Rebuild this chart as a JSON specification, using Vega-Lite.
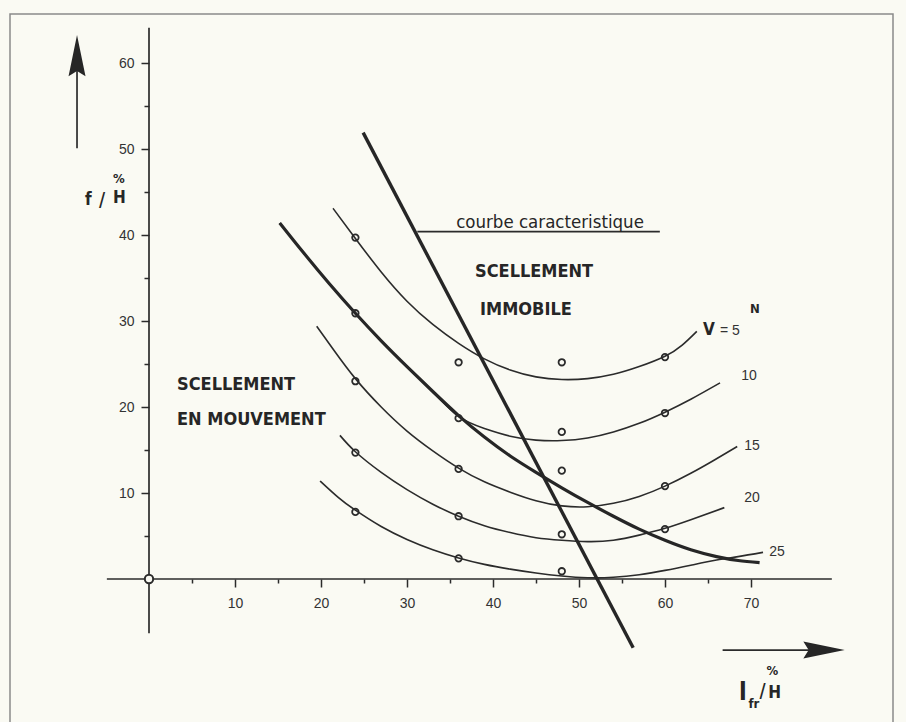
{
  "$schema": "https://vega.github.io/schema/vega-lite/v6.json",
  "width": 883,
  "height": 710,
  "autosize": {"type": "none"},
  "padding": {"left": 10, "top": 14, "right": 13, "bottom": 0},
  "background": "#fafaf3",
  "config": {"view": {"stroke": "#8a8a8a", "strokeWidth": 1.5}, "font": "Liberation Sans"},
  "datasets": {
    "curves": [
      {"v": "5", "x": 21.4, "y": 43.1}, {"v": "5", "x": 24, "y": 39.6}, {"v": "5", "x": 27, "y": 35.7}, {"v": "5", "x": 30, "y": 32.3}, {"v": "5", "x": 33, "y": 29.6}, {"v": "5", "x": 36, "y": 27.4}, {"v": "5", "x": 39, "y": 25.6}, {"v": "5", "x": 42, "y": 24.3}, {"v": "5", "x": 45, "y": 23.5}, {"v": "5", "x": 48, "y": 23.2}, {"v": "5", "x": 51, "y": 23.3}, {"v": "5", "x": 54, "y": 23.8}, {"v": "5", "x": 57, "y": 24.7}, {"v": "5", "x": 60, "y": 25.9}, {"v": "5", "x": 62, "y": 27.2}, {"v": "5", "x": 63.7, "y": 28.8},
      {"v": "10", "x": 15.2, "y": 41.4}, {"v": "10", "x": 18, "y": 37.9}, {"v": "10", "x": 21, "y": 34.3}, {"v": "10", "x": 24, "y": 30.9}, {"v": "10", "x": 27, "y": 27.7}, {"v": "10", "x": 30, "y": 24.7}, {"v": "10", "x": 33, "y": 21.8}, {"v": "10", "x": 36, "y": 18.9}, {"v": "10", "x": 39, "y": 17.5}, {"v": "10", "x": 42, "y": 16.6}, {"v": "10", "x": 45, "y": 16.15}, {"v": "10", "x": 48, "y": 16.1}, {"v": "10", "x": 51, "y": 16.4}, {"v": "10", "x": 54, "y": 17.1}, {"v": "10", "x": 57, "y": 18.1}, {"v": "10", "x": 60, "y": 19.4}, {"v": "10", "x": 63, "y": 20.9}, {"v": "10", "x": 66.4, "y": 22.8},
      {"v": "15", "x": 19.5, "y": 29.4}, {"v": "15", "x": 21.5, "y": 26.6}, {"v": "15", "x": 24, "y": 23.3}, {"v": "15", "x": 27, "y": 20.0}, {"v": "15", "x": 30, "y": 17.2}, {"v": "15", "x": 33, "y": 14.9}, {"v": "15", "x": 36, "y": 12.9}, {"v": "15", "x": 39, "y": 11.3}, {"v": "15", "x": 42, "y": 10.1}, {"v": "15", "x": 45, "y": 9.1}, {"v": "15", "x": 48, "y": 8.5}, {"v": "15", "x": 51, "y": 8.4}, {"v": "15", "x": 54, "y": 8.8}, {"v": "15", "x": 57, "y": 9.6}, {"v": "15", "x": 60, "y": 10.8}, {"v": "15", "x": 63, "y": 12.3}, {"v": "15", "x": 65.5, "y": 13.7}, {"v": "15", "x": 68.4, "y": 15.4},
      {"v": "20", "x": 22.2, "y": 16.7}, {"v": "20", "x": 24, "y": 14.8}, {"v": "20", "x": 27, "y": 12.4}, {"v": "20", "x": 30, "y": 10.4}, {"v": "20", "x": 33, "y": 8.7}, {"v": "20", "x": 36, "y": 7.3}, {"v": "20", "x": 39, "y": 6.2}, {"v": "20", "x": 42, "y": 5.4}, {"v": "20", "x": 45, "y": 4.8}, {"v": "20", "x": 48, "y": 4.5}, {"v": "20", "x": 51, "y": 4.35}, {"v": "20", "x": 54, "y": 4.5}, {"v": "20", "x": 57, "y": 5.1}, {"v": "20", "x": 60, "y": 5.9}, {"v": "20", "x": 63, "y": 6.9}, {"v": "20", "x": 66.9, "y": 8.3},
      {"v": "25", "x": 19.9, "y": 11.4}, {"v": "25", "x": 22, "y": 9.5}, {"v": "25", "x": 24, "y": 8.0}, {"v": "25", "x": 27, "y": 6.1}, {"v": "25", "x": 30, "y": 4.6}, {"v": "25", "x": 33, "y": 3.4}, {"v": "25", "x": 36, "y": 2.45}, {"v": "25", "x": 39, "y": 1.7}, {"v": "25", "x": 42, "y": 1.15}, {"v": "25", "x": 45, "y": 0.7}, {"v": "25", "x": 48, "y": 0.35}, {"v": "25", "x": 51, "y": 0.15}, {"v": "25", "x": 54, "y": 0.2}, {"v": "25", "x": 57, "y": 0.5}, {"v": "25", "x": 60, "y": 1.0}, {"v": "25", "x": 63, "y": 1.6}, {"v": "25", "x": 66, "y": 2.2}, {"v": "25", "x": 68.5, "y": 2.6}, {"v": "25", "x": 71.4, "y": 3.1}
    ],
    "limit": [
      {"x": 15.2, "y": 41.4}, {"x": 18, "y": 37.9}, {"x": 21, "y": 34.3}, {"x": 24, "y": 30.9}, {"x": 27, "y": 27.7}, {"x": 30, "y": 24.7}, {"x": 33, "y": 21.8}, {"x": 36, "y": 19.0}, {"x": 39, "y": 16.5}, {"x": 42, "y": 14.3}, {"x": 45, "y": 12.4}, {"x": 48, "y": 10.6}, {"x": 51, "y": 8.9}, {"x": 54, "y": 7.3}, {"x": 57, "y": 5.8}, {"x": 60, "y": 4.5}, {"x": 63, "y": 3.4}, {"x": 66, "y": 2.6}, {"x": 68.5, "y": 2.15}, {"x": 71.0, "y": 1.9}
    ],
    "points": [
      {"v": "5", "x": 24, "y": 39.7}, {"v": "5", "x": 36, "y": 25.2}, {"v": "5", "x": 48, "y": 25.2}, {"v": "5", "x": 60, "y": 25.8},
      {"v": "10", "x": 24, "y": 30.9}, {"v": "10", "x": 36, "y": 18.7}, {"v": "10", "x": 48, "y": 17.1}, {"v": "10", "x": 60, "y": 19.3},
      {"v": "15", "x": 24, "y": 23.0}, {"v": "15", "x": 36, "y": 12.8}, {"v": "15", "x": 48, "y": 12.6}, {"v": "15", "x": 60, "y": 10.8},
      {"v": "20", "x": 24, "y": 14.7}, {"v": "20", "x": 36, "y": 7.3}, {"v": "20", "x": 48, "y": 5.2}, {"v": "20", "x": 60, "y": 5.8},
      {"v": "25", "x": 24, "y": 7.8}, {"v": "25", "x": 36, "y": 2.4}, {"v": "25", "x": 48, "y": 0.9}
    ],
    "thinRules": [
      {"x": -4.9, "y": 0, "x2": 79.4, "y2": 0},
      {"x": 0, "y": -6.3, "x2": 0, "y2": 64.1},
      {"x": 31.2, "y": 40.4, "x2": 59.4, "y2": 40.4},
      {"x": -8.37, "y": 50.1, "x2": -8.37, "y2": 60.0},
      {"x": 66.7, "y": -8.26, "x2": 77.5, "y2": -8.26}
    ],
    "charac": [{"x": 24.9, "y": 51.9, "x2": 56.3, "y2": -8.0}],
    "heads": [{"dir": "up", "x": -8.37, "y": 60.8}, {"dir": "right", "x": 78.43, "y": -8.26}],
    "origin": [{"x": 0, "y": 0}],
    "bigText": [
      {"x": 37.91, "y": 35.12, "t": "SCELLEMENT"},
      {"x": 38.49, "y": 30.7, "t": "IMMOBILE"},
      {"x": 3.26, "y": 21.98, "t": "SCELLEMENT"},
      {"x": 3.26, "y": 17.91, "t": "EN MOUVEMENT"}
    ],
    "courbeText": [{"x": 46.63, "y": 40.81, "t": "courbe caracteristique"}],
    "curveLabels": [
      {"x": 69.77, "y": 23.14, "t": "10"},
      {"x": 70.12, "y": 15.0, "t": "15"},
      {"x": 70.12, "y": 8.95, "t": "20"},
      {"x": 73.02, "y": 2.67, "t": "25"}
    ],
    "vBold": [{"x": 64.42, "y": 28.37, "t": "V"}],
    "vReg": [{"x": 66.4, "y": 28.37, "t": "= 5"}],
    "titleBig": [
      {"x": -7.44, "y": 43.49, "t": "f"},
      {"x": -4.19, "y": 43.72, "t": "H"},
      {"x": 72.0, "y": -13.84, "t": "H"}
    ],
    "titleSlash": [
      {"x": -5.81, "y": 43.14, "t": "/"},
      {"x": 71.0, "y": -13.95, "t": "/"}
    ],
    "titleSmall": [
      {"x": -4.19, "y": 46.0, "t": "%"},
      {"x": 71.8, "y": -11.2, "t": "%"},
      {"x": 69.88, "y": 30.93, "t": "N"},
      {"x": 69.7, "y": -14.95, "t": "fr"}
    ],
    "titleL": [{"x": 68.6, "y": -14.07, "t": "l"}]
  },
  "encoding": {
    "x": {
      "field": "x", "type": "quantitative",
      "scale": {"domain": [-16.163, 86.512], "nice": false, "zero": false},
      "axis": {
        "orient": "bottom", "offset": -145, "domain": false, "grid": false, "title": null,
        "values": [5, 10, 15, 20, 25, 30, 35, 40, 45, 50, 55, 60, 65, 70],
        "tickSize": {"condition": {"test": "datum.value % 10 === 0", "value": 8}, "value": 4},
        "tickColor": "#2b2b2b", "tickWidth": 1.5,
        "labelExpr": "datum.value % 10 === 0 ? datum.label : ''",
        "labelFont": "Liberation Sans", "labelFontSize": 14, "labelColor": "#333333", "labelPadding": 9
      }
    },
    "y": {
      "field": "y", "type": "quantitative",
      "scale": {"domain": [-16.86, 65.698], "nice": false, "zero": false},
      "axis": {
        "orient": "left", "offset": -139, "domain": false, "grid": false, "title": null,
        "values": [5, 10, 15, 20, 25, 30, 35, 40, 45, 50, 55, 60],
        "tickSize": {"condition": {"test": "datum.value % 10 === 0", "value": 8}, "value": 5},
        "tickColor": "#2b2b2b", "tickWidth": 1.5,
        "labelExpr": "datum.value % 10 === 0 ? datum.label : ''",
        "labelFont": "Liberation Sans", "labelFontSize": 14, "labelColor": "#333333", "labelPadding": 7
      }
    }
  },
  "layer": [
    {
      "data": {"name": "thinRules"},
      "mark": {"type": "rule", "color": "#2b2b2b", "strokeWidth": 1.7},
      "encoding": {"x2": {"field": "x2"}, "y2": {"field": "y2"}}
    },
    {
      "data": {"name": "curves"},
      "mark": {"type": "line", "interpolate": "natural", "color": "#2b2b2b", "strokeWidth": 1.6},
      "encoding": {"detail": {"field": "v", "type": "nominal"}}
    },
    {
      "data": {"name": "limit"},
      "mark": {"type": "line", "interpolate": "natural", "color": "#262626", "strokeWidth": 3.2},
      "encoding": {}
    },
    {
      "data": {"name": "charac"},
      "mark": {"type": "rule", "color": "#262626", "strokeWidth": 3.4},
      "encoding": {"x2": {"field": "x2"}, "y2": {"field": "y2"}}
    },
    {
      "data": {"name": "points"},
      "mark": {"type": "point", "filled": false, "color": "#2b2b2b", "size": 42, "strokeWidth": 1.8, "opacity": 1}
    },
    {
      "data": {"name": "origin"},
      "mark": {"type": "point", "filled": false, "fill": "#fafaf3", "fillOpacity": 1, "color": "#2b2b2b", "size": 70, "strokeWidth": 2, "opacity": 1}
    },
    {
      "data": {"name": "heads"},
      "mark": {"type": "point", "filled": true, "color": "#262626", "size": 1800, "opacity": 1},
      "encoding": {
        "shape": {"field": "dir", "type": "nominal", "legend": null,
          "scale": {"domain": ["up", "right"], "range": ["M0,-1L0.4,0.95L0,0.7L-0.4,0.95Z", "M1,0L-0.95,-0.4L-0.7,0L-0.95,0.4Z"]}}
      }
    },
    {
      "data": {"name": "bigText"},
      "mark": {"type": "text", "align": "left", "baseline": "alphabetic", "font": "DejaVu Sans Condensed", "fontWeight": "bold", "fontSize": 18, "color": "#262626"},
      "encoding": {"text": {"field": "t"}}
    },
    {
      "data": {"name": "courbeText"},
      "mark": {"type": "text", "align": "center", "baseline": "alphabetic", "font": "DejaVu Sans Condensed", "fontSize": 18.5, "color": "#262626"},
      "encoding": {"text": {"field": "t"}}
    },
    {
      "data": {"name": "curveLabels"},
      "mark": {"type": "text", "align": "center", "baseline": "alphabetic", "font": "Liberation Sans", "fontSize": 14, "color": "#333333"},
      "encoding": {"text": {"field": "t"}}
    },
    {
      "data": {"name": "vBold"},
      "mark": {"type": "text", "align": "left", "baseline": "alphabetic", "font": "DejaVu Sans Condensed", "fontWeight": "bold", "fontSize": 17, "color": "#262626"},
      "encoding": {"text": {"field": "t"}}
    },
    {
      "data": {"name": "vReg"},
      "mark": {"type": "text", "align": "left", "baseline": "alphabetic", "font": "Liberation Sans", "fontSize": 14, "color": "#333333"},
      "encoding": {"text": {"field": "t"}}
    },
    {
      "data": {"name": "titleBig"},
      "mark": {"type": "text", "align": "left", "baseline": "alphabetic", "font": "DejaVu Sans Condensed", "fontWeight": "bold", "fontSize": 17, "color": "#262626"},
      "encoding": {"text": {"field": "t"}}
    },
    {
      "data": {"name": "titleSlash"},
      "mark": {"type": "text", "align": "left", "baseline": "alphabetic", "font": "Liberation Sans", "fontSize": 22, "color": "#262626"},
      "encoding": {"text": {"field": "t"}}
    },
    {
      "data": {"name": "titleSmall"},
      "mark": {"type": "text", "align": "left", "baseline": "alphabetic", "font": "DejaVu Sans Condensed", "fontWeight": "bold", "fontSize": 13, "color": "#262626"},
      "encoding": {"text": {"field": "t"}}
    },
    {
      "data": {"name": "titleL"},
      "mark": {"type": "text", "align": "left", "baseline": "alphabetic", "font": "DejaVu Sans Condensed", "fontWeight": "bold", "fontSize": 25, "color": "#262626"},
      "encoding": {"text": {"field": "t"}}
    }
  ]
}
